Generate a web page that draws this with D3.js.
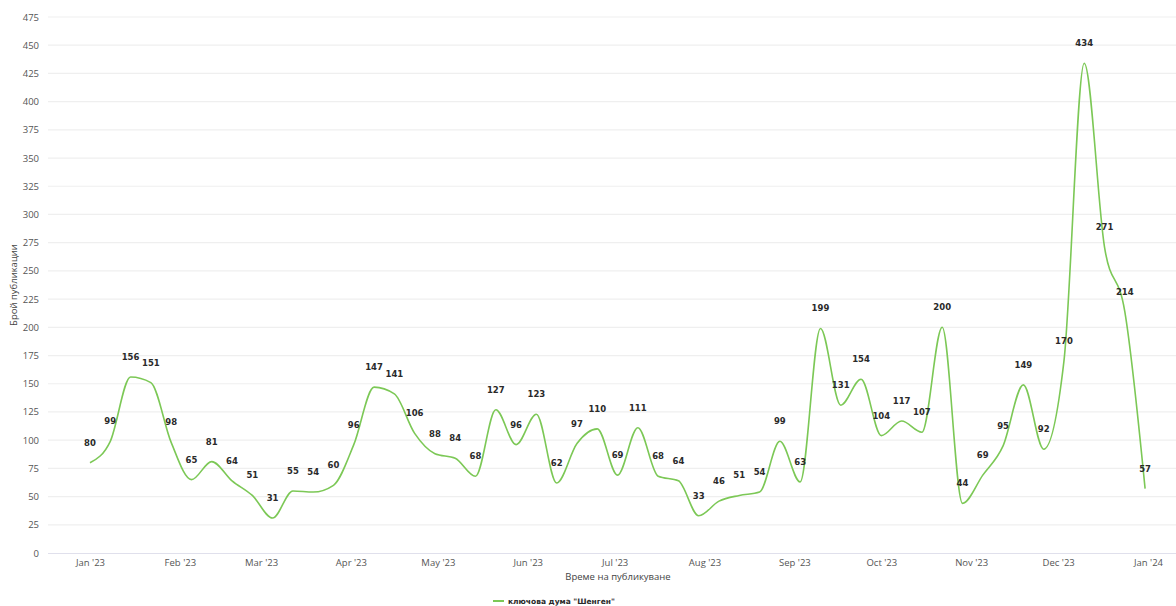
<!DOCTYPE html>
<html>
<head>
<meta charset="utf-8">
<script src="https://cdn.jsdelivr.net/npm/d3@7"></script>
<style>
  html, body { margin: 0; padding: 0; background: #fff; }
  svg { display: block; }
</style>
</head>
<body>
<svg id="chart" width="1176" height="606"></svg>
<script>
// ---- data ----
const startDate = "2023-01-01"; // weekly points, weeks starting Sunday
const values = [80, 99, 156, 151, 98, 65, 81, 64, 51, 31, 55, 54, 60, 96, 147, 141, 106, 88, 84, 68,
  127, 96, 123, 62, 97, 110, 69, 111, 68, 64, 33, 46, 51, 54, 99, 63, 199, 131, 154, 104,
  117, 107, 200, 44, 69, 95, 149, 92, 170, 434, 271, 214, 57];
const yTicks = [0, 25, 50, 75, 100, 125, 150, 175, 200, 225, 250, 275, 300, 325, 350, 375, 400, 425, 450, 475];
const monthNames = ["Jan", "Feb", "Mar", "Apr", "May", "Jun", "Jul", "Aug", "Sep", "Oct", "Nov", "Dec"];
const seriesName = 'ключова дума "Шенген"';
const xTitle = "Време на публикуване";
const yTitle = "Брой публикации";

// ---- build ----
const parse = d3.utcParse("%Y-%m-%d");
const t0 = parse(startDate);
const data = values.map((v, i) => ({ date: d3.utcDay.offset(t0, i * 7), value: v }));

const svg = d3.select("#chart");
const plotLeft = 48, plotRight = 1176, plotTop = 17, plotBottom = 553;

const x = d3.scaleUtc()
  .domain([parse("2023-01-01"), parse("2024-01-01")])
  .range([90, 1148]);
const y = d3.scaleLinear().domain([0, 475]).range([plotBottom, plotTop]);

const font = "'Open Sans', 'Liberation Sans', sans-serif";

// gridlines
svg.append("g").selectAll("line").data(yTicks.filter(d => d > 0)).join("line")
  .attr("x1", plotLeft).attr("x2", plotRight)
  .attr("y1", d => y(d)).attr("y2", d => y(d))
  .attr("stroke", "#efefef").attr("stroke-width", 1.2);

// y axis labels
const yAxis = d3.axisLeft(y).tickValues(yTicks).tickSize(0).tickPadding(0);
const gy = svg.append("g").attr("transform", `translate(39,0)`).call(yAxis);
gy.select(".domain").remove();
gy.selectAll("text").attr("font-family", font).attr("font-size", 9.5).attr("fill", "#555");

// x axis line
svg.append("line").attr("x1", plotLeft).attr("x2", plotRight)
  .attr("y1", plotBottom + 0.5).attr("y2", plotBottom + 0.5)
  .attr("stroke", "#e0e0ec").attr("stroke-width", 1);

// x axis labels
const months = d3.utcMonth.range(parse("2023-01-01"), parse("2024-01-02"));
const xAxis = d3.axisBottom(x).tickValues(months).tickSize(0).tickPadding(0)
  .tickFormat(d => `${monthNames[d.getUTCMonth()]} '${String(d.getUTCFullYear()).slice(2)}`);
const gx = svg.append("g").attr("transform", `translate(0,${plotBottom + 6})`).call(xAxis);
gx.select(".domain").remove();
gx.selectAll("text").attr("font-family", font).attr("font-size", 9.5).attr("fill", "#555");

// axis titles
svg.append("text").attr("x", 618).attr("y", 580).attr("text-anchor", "middle")
  .attr("font-family", font).attr("font-size", 9.5).attr("fill", "#444").text(xTitle);
svg.append("text").attr("transform", `translate(17,${(plotTop + plotBottom) / 2}) rotate(-90)`)
  .attr("text-anchor", "middle").attr("font-family", font).attr("font-size", 9.5)
  .attr("fill", "#444").text(yTitle);

// line
const line = d3.line().x(d => x(d.date)).y(d => y(d.value)).curve(d3.curveMonotoneX);
svg.append("path").datum(data).attr("d", line)
  .attr("fill", "none").attr("stroke", "#7cc856").attr("stroke-width", 1.6);

// data labels
svg.append("g").selectAll("text").data(data).join("text")
  .attr("x", d => x(d.date)).attr("y", d => y(d.value) - 17)
  .attr("text-anchor", "middle")
  .attr("font-family", "'DejaVu Sans', sans-serif").attr("font-weight", "bold")
  .attr("font-size", 8.5).attr("fill", "#2a2a2a")
  .text(d => d.value);

// legend
const lg = svg.append("g").attr("transform", "translate(493,601)");
lg.append("line").attr("x1", 0).attr("x2", 11).attr("y1", 0).attr("y2", 0)
  .attr("stroke", "#7cc856").attr("stroke-width", 2);
lg.append("text").attr("x", 15).attr("y", 2.8)
  .attr("font-family", "'DejaVu Sans', sans-serif").attr("font-weight", "bold")
  .attr("font-size", 7.5).attr("fill", "#2a2a2a").text(seriesName);
</script>
</body>
</html>
